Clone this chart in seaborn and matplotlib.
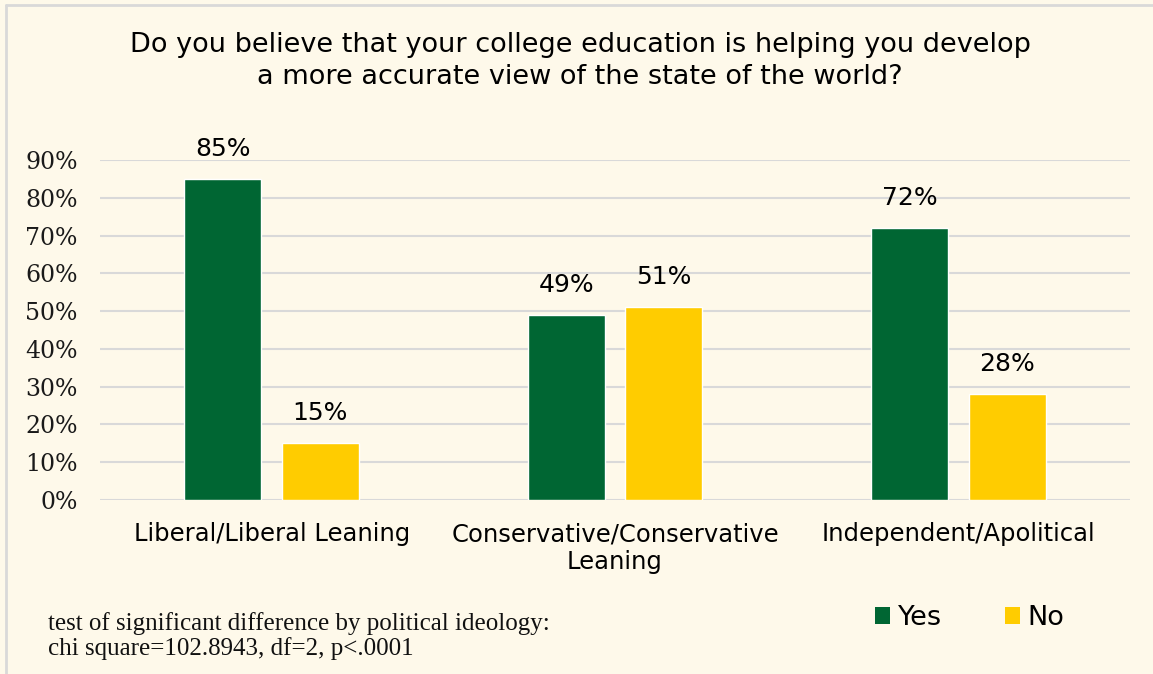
import matplotlib
matplotlib.use("Agg")
import matplotlib.pyplot as plt
import seaborn as sns
import pandas as pd
from matplotlib.lines import Line2D
from matplotlib.patches import Patch

# Survey results by political ideology
categories = ["Liberal/Liberal Leaning", "Conservative/Conservative\nLeaning", "Independent/Apolitical"]
yes_values = [0.85, 0.49, 0.72]
no_values = [0.15, 0.51, 0.28]
series = ["Yes", "No"]
colors = {"Yes": "#006633", "No": "#FFCC00"}
y_ticks = [0.0, 0.1, 0.2, 0.3, 0.4, 0.5, 0.6, 0.7, 0.8, 0.9]

df = pd.DataFrame({
    "category": categories * 2,
    "response": ["Yes"] * 3 + ["No"] * 3,
    "share": yes_values + no_values,
})

sns.set_theme(style="white")
bg = "#FEF9EA"
fig = plt.figure(figsize=(11.53, 6.74), dpi=100, facecolor=bg)
ax = fig.add_axes([100 / 1153, 174 / 674, 1030 / 1153, 340 / 674])
ax.set_facecolor(bg)

sns.barplot(data=df, x="category", y="share", hue="response", hue_order=series,
            palette=colors, width=0.568, gap=0.21, saturation=1, ax=ax,
            legend=False, errorbar=None)

ax.set_xlim(-0.5, 2.5)
ax.set_ylim(0, 0.9)
ax.set_yticks(y_ticks)
ax.set_yticklabels([f"{int(round(t * 100))}%" for t in y_ticks],
                   fontsize=17, family="DejaVu Serif", color="#1a1a1a")
ax.tick_params(axis="y", length=0, pad=16)
ax.tick_params(axis="x", length=0, pad=16)
for lbl in ax.get_xticklabels():
    lbl.set_fontsize(17.5)
    lbl.set_family("DejaVu Sans")
    lbl.set_color("#000000")
    lbl.set_linespacing(1.2)
ax.set_xlabel("")
ax.set_ylabel("")
for s in ax.spines.values():
    s.set_visible(False)
ax.grid(axis="y", color="#D9D9D9", linewidth=1.5)
ax.set_axisbelow(True)

for container in ax.containers:
    ax.bar_label(container, labels=[f"{int(round(v * 100))}%" for v in container.datavalues],
                 padding=13, fontsize=18, family="DejaVu Sans", color="#000000", clip_on=False)

fig.text(0.503, 1 - 61 / 674, "Do you believe that your college education is helping you develop\n"
         "a more accurate view of the state of the world?",
         ha="center", va="center", fontsize=19.5, family="DejaVu Sans",
         color="#000000", linespacing=1.3)

fig.text(48 / 1153, 1 - 636 / 674, "test of significant difference by political ideology:\n"
         "chi square=102.8943, df=2, p<.0001",
         ha="left", va="center", fontsize=18, family="Liberation Serif",
         color="#111111", linespacing=1.1)

handles = [Patch(facecolor=colors[s], edgecolor="none") for s in series]
fig.legend(handles, series, loc="center", bbox_to_anchor=(970 / 1153, 1 - 618 / 674),
           ncol=2, frameon=False, fontsize=19.5, handlelength=0.55, handleheight=0.55,
           handletextpad=0.3, columnspacing=2.3, labelcolor="#000000")

# Outer chart border
fig.add_artist(Line2D([6 / 1153, 6 / 1153], [0, 1 - 5 / 674], transform=fig.transFigure,
                      color="#D9D9D9", linewidth=2))
fig.add_artist(Line2D([6 / 1153, 1], [1 - 5 / 674, 1 - 5 / 674], transform=fig.transFigure,
                      color="#D9D9D9", linewidth=2))

fig.savefig("out.png", dpi=100, facecolor=bg)
